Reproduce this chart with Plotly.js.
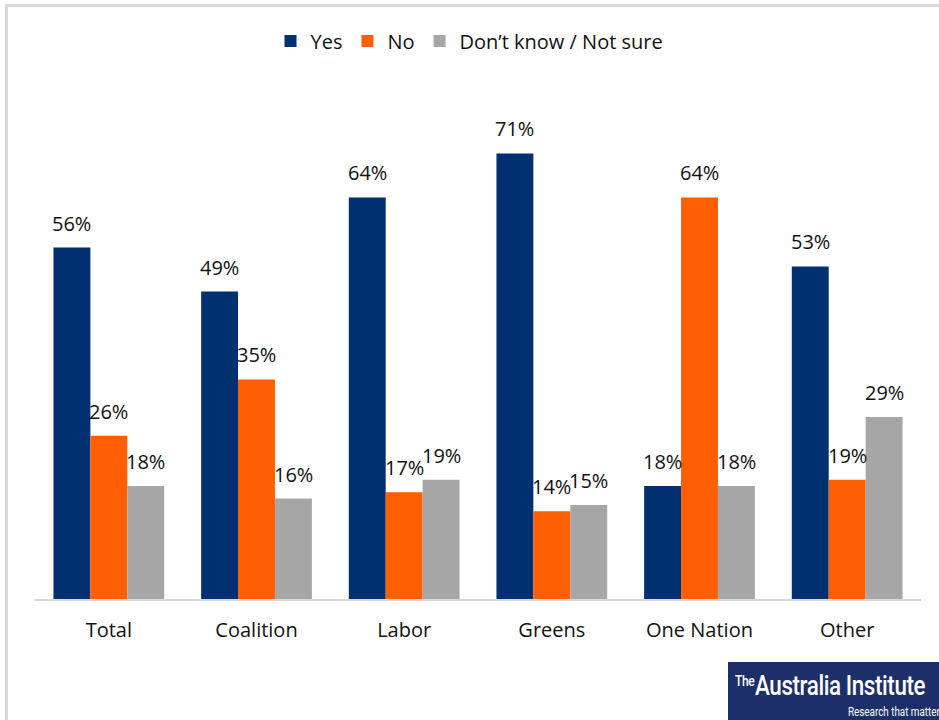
<!DOCTYPE html>
<html>
<head>
<meta charset="utf-8">
<script src="https://cdn.plot.ly/plotly-3.0.1.min.js"></script>
<style>
  html, body { margin: 0; padding: 0; background: #fff; }
  #wrap { position: relative; width: 939px; height: 720px; overflow: hidden; }
  #chart { position: absolute; left: 0; top: 0; width: 939px; height: 720px; }
  #frame { position: absolute; left: 5px; top: 4px; width: 960px; height: 760px;
           border-top: 3px solid #d9d9d9; border-left: 3px solid #d9d9d9; pointer-events: none; }
  #logo { position: absolute; left: 728px; top: 662px; width: 220px; height: 70px; background: #1d2f68;
          color: #fff; font-family: "Roboto", "DejaVu Sans", sans-serif; }
  #logo .main { position: absolute; left: 7px; top: 7px; font-size: 28px; font-weight: 500; letter-spacing: -0.5px;
                white-space: nowrap; transform: scaleX(0.80); transform-origin: left top; }
  #logo .main sup { font-size: 15px; vertical-align: 9px; margin-right: 1px; }
  #logo .sub { position: absolute; left: 120px; top: 43px; font-size: 12px; white-space: nowrap;
               transform: scaleX(0.82); transform-origin: left top; }
</style>
</head>
<body>
<div id="wrap">
  <div id="chart"></div>
  <div id="frame"></div>
  <div id="logo"><div class="main"><sup>The</sup>Australia Institute</div><div class="sub">Research that matter</div></div>
</div>
<script>
const categories = ["Total", "Coalition", "Labor", "Greens", "One Nation", "Other"];
const seriesNames = ["Yes", "No", "Don\u2019t know / Not sure"];
const yesValues = [56, 49, 64, 71, 18, 53];
const noValues = [26, 35, 17, 14, 64, 19];
const dkValues = [18, 16, 19, 15, 18, 29];
const colors = ["#003070", "#ff5f00", "#a6a6a6"];

const allValues = [yesValues, noValues, dkValues];
const FONT = "Open Sans, Noto Sans, sans-serif";

const traces = allValues.map((vals, j) => ({
  type: "bar",
  name: seriesNames[j],
  x: categories,
  y: vals,
  marker: { color: colors[j] },
  hoverinfo: "skip"
}));

const annotations = [];
allValues.forEach((vals, j) => {
  vals.forEach((v, i) => {
    annotations.push({
      x: i + (j - 1) * 0.25,
      y: v,
      xref: "x", yref: "y",
      text: v + "%",
      showarrow: false,
      yanchor: "bottom",
      yshift: 9,
      font: { family: FONT, size: 20, color: "#111" }
    });
  });
});

const layout = {
  width: 939, height: 720,
  margin: { l: 35, r: 18, t: 97, b: 121 },
  paper_bgcolor: "#fff", plot_bgcolor: "#fff",
  barmode: "group", bargap: 0.25, bargroupgap: 0,
  font: { family: FONT, size: 20, color: "#111" },
  showlegend: true,
  legend: {
    orientation: "h", x: 0.5, xanchor: "center", xref: "container",
    y: 0.970, yref: "container", yanchor: "top",
    font: { family: FONT, size: 20, color: "#111" },
    itemwidth: 30, tracegroupgap: 0
  },
  xaxis: {
    type: "category",
    showline: true, linecolor: "#d9d9d9", linewidth: 2,
    ticks: "", showgrid: false, zeroline: false,
    ticklabelstandoff: 12,
    tickfont: { family: FONT, size: 20, color: "#111" }
  },
  yaxis: {
    range: [0, 80], visible: false, showgrid: false, zeroline: false
  },
  annotations: annotations
};

Plotly.newPlot("chart", traces, layout, { staticPlot: true, displayModeBar: false });
</script>
</body>
</html>
